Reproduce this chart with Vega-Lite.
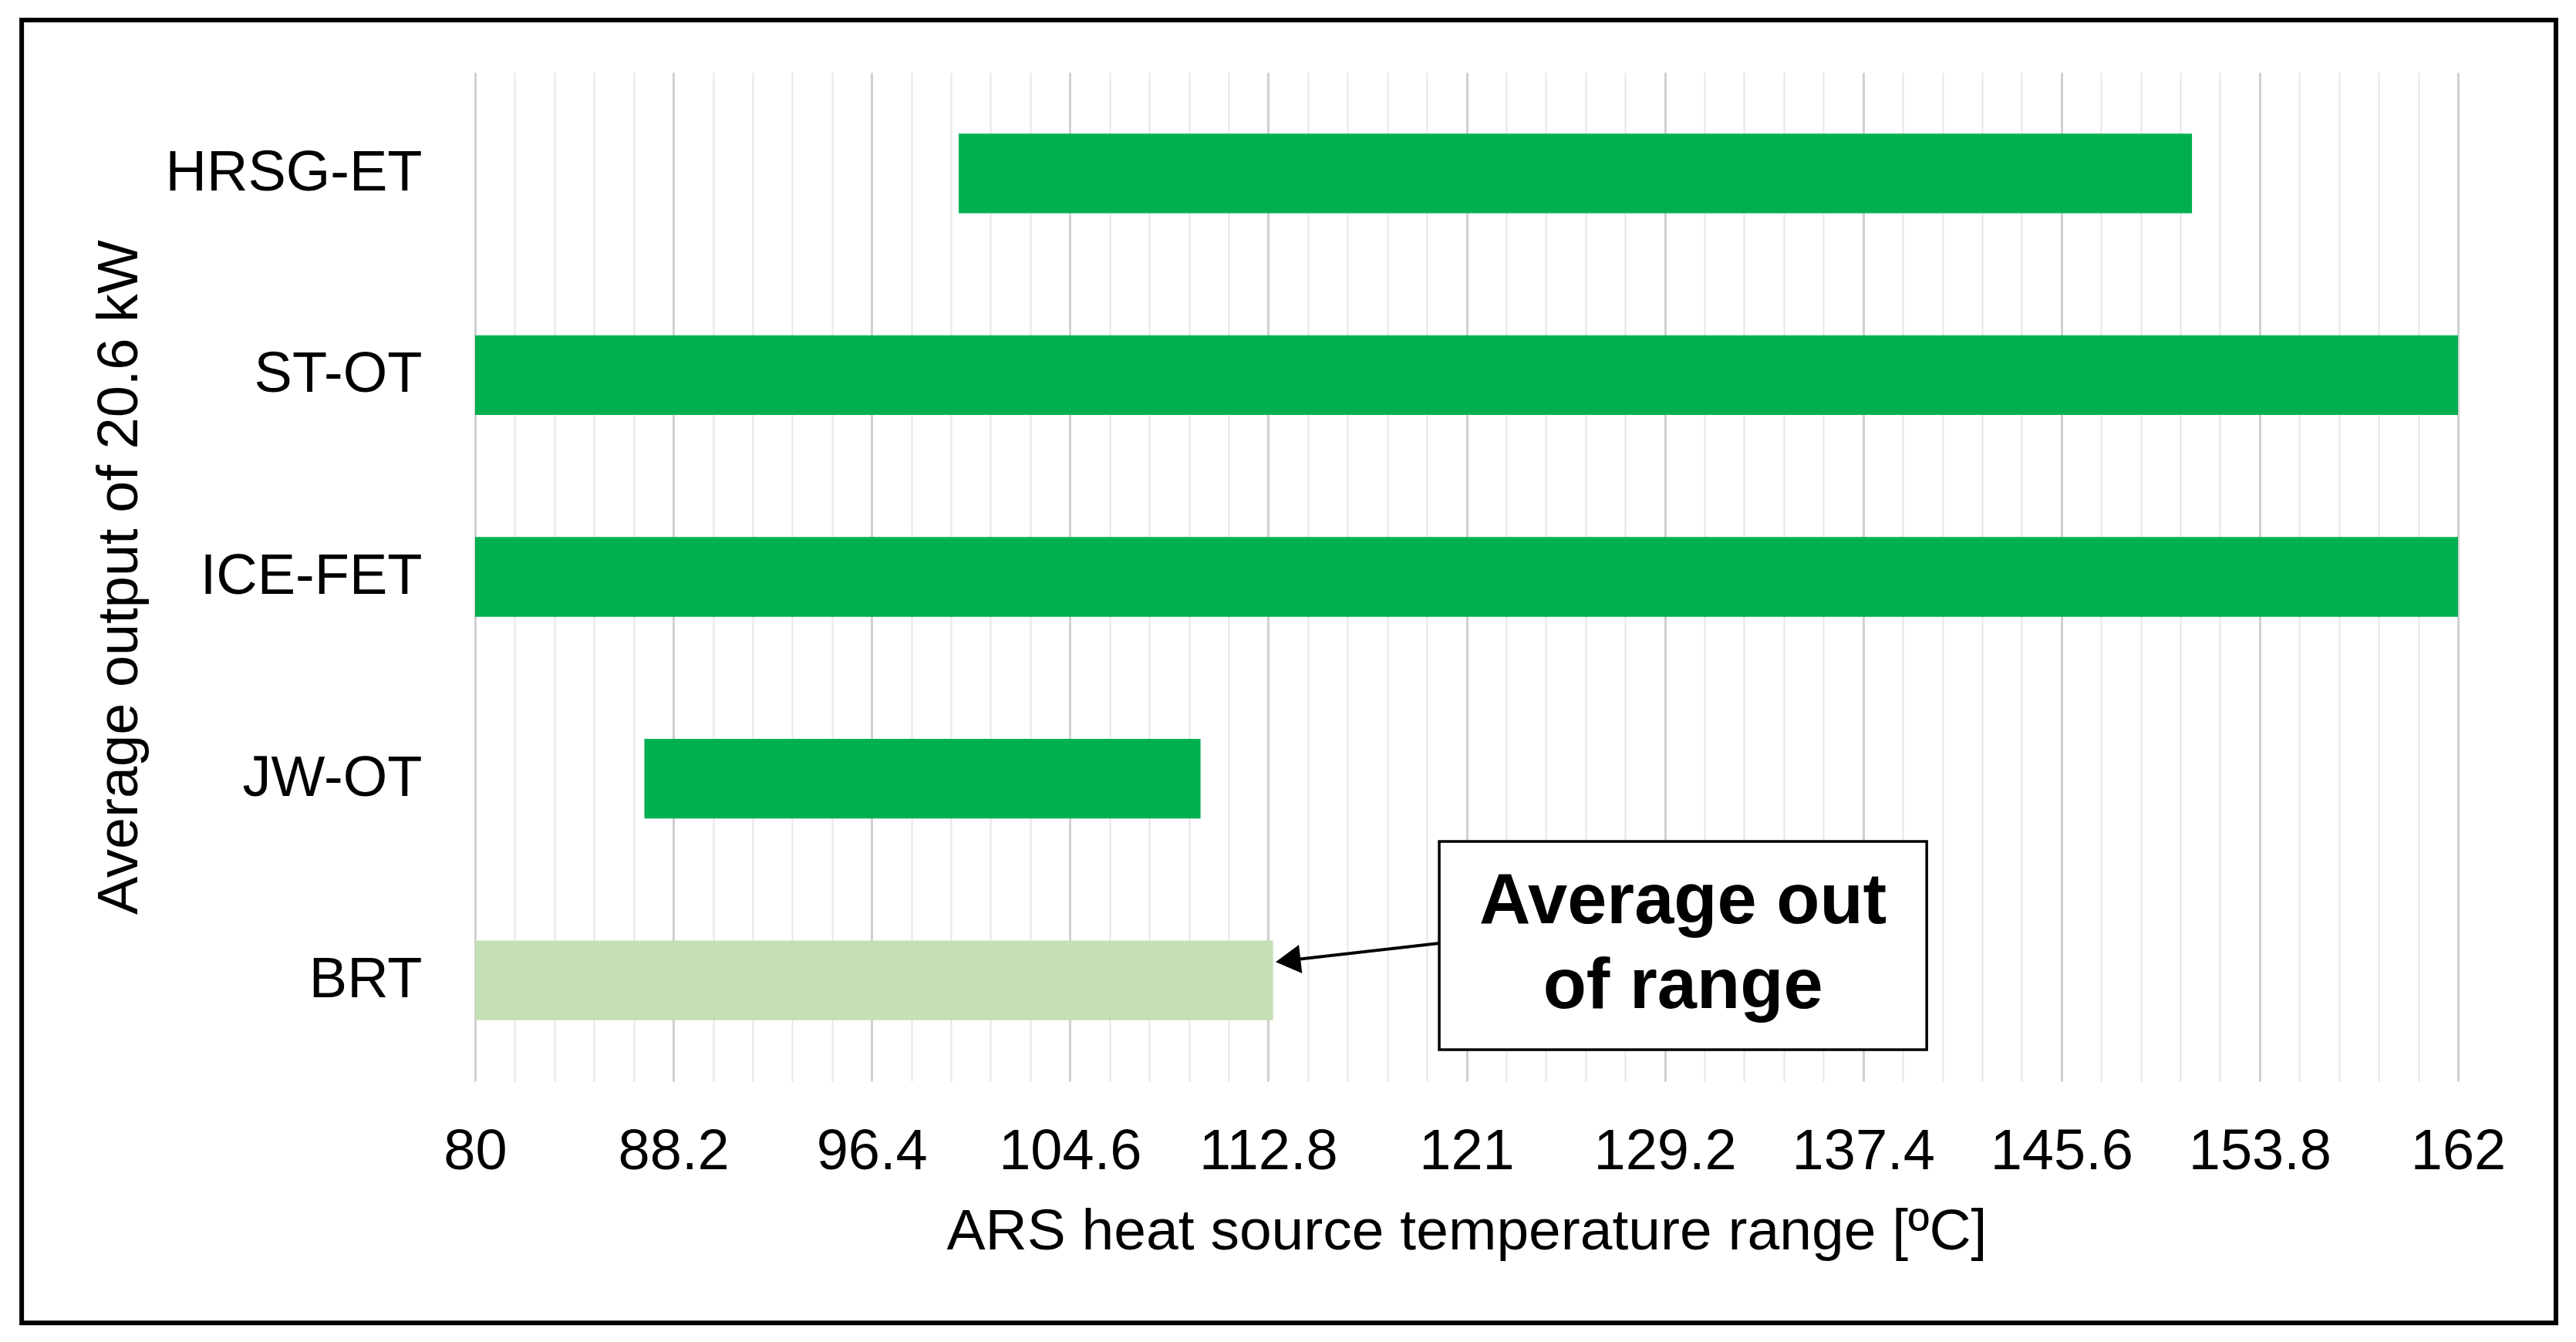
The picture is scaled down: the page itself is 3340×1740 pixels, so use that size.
{
  "$schema": "https://vega.github.io/schema/vega-lite/v6.json",
  "autosize": {"type": "none"},
  "width": 2571,
  "height": 1308,
  "padding": {"left": 616, "top": 94, "right": 153, "bottom": 338},
  "background": "white",
  "config": {
    "view": {"stroke": null},
    "font": "Liberation Sans",
    "axis": {"labelFont": "Liberation Sans", "titleFont": "Liberation Sans", "labelColor": "black", "titleColor": "black", "titleFontWeight": "normal"}
  },
  "datasets": {
    "bars": [
      {"tech": "HRSG-ET", "start": 100, "end": 151, "status": "Within range"},
      {"tech": "ST-OT", "start": 80, "end": 162, "status": "Within range"},
      {"tech": "ICE-FET", "start": 80, "end": 162, "status": "Within range"},
      {"tech": "JW-OT", "start": 87, "end": 110, "status": "Within range"},
      {"tech": "BRT", "start": 80, "end": 113, "status": "Average out of range"}
    ],
    "frame": [
      {"x1": 61.25, "x2": 166.05, "y1": 0.24, "y2": 6.697}
    ],
    "box": [
      {"x1": 119.87, "x2": 140.03, "y1": 4.311, "y2": 5.343}
    ],
    "arrow": [
      {"x": 119.87, "y": 4.816, "order": 1},
      {"x": 113.62, "y": 4.901, "order": 2}
    ],
    "arrowhead": [
      {"x": 113.62, "y": 4.901}
    ],
    "note": [
      {"x": 129.95, "y": 4.716, "text": "Average out"},
      {"x": 129.95, "y": 5.137, "text": "of range"}
    ]
  },
  "layer": [
    {
      "data": {"name": "bars"},
      "mark": {"type": "bar"},
      "encoding": {
        "y": {
          "field": "tech", "type": "nominal", "sort": null,
          "scale": {"paddingInner": 0.605, "paddingOuter": 0.3025},
          "axis": {
            "title": "Average output of 20.6 kW",
            "titleFontSize": 74,
            "titlePadding": 223,
            "labelFontSize": 74,
            "labelPadding": 69,
            "labelLimit": 1000,
            "ticks": false,
            "tickSize": 0,
            "domain": false,
            "grid": false
          }
        },
        "x": {
          "field": "start", "type": "quantitative",
          "scale": {"domain": [80, 162], "nice": false, "zero": false},
          "axis": {
            "title": "ARS heat source temperature range [ºC]",
            "titleFontSize": 75,
            "titlePadding": 30,
            "labelFontSize": 74,
            "labelPadding": 55,
            "labelLimit": 1000,
            "format": ".4~g",
            "ticks": false,
            "tickSize": 0,
            "domain": false,
            "grid": true,
            "labelOverlap": false,
            "labelFlush": false,
            "labelBound": false,
            "values": [80, 81.64, 83.28, 84.92, 86.56, 88.2, 89.84, 91.48, 93.12, 94.76, 96.4, 98.04, 99.68, 101.32, 102.96, 104.6, 106.24, 107.88, 109.52, 111.16, 112.8, 114.44, 116.08, 117.72, 119.36, 121, 122.64, 124.28, 125.92, 127.56, 129.2, 130.84, 132.48, 134.12, 135.76, 137.4, 139.04, 140.68, 142.32, 143.96, 145.6, 147.24, 148.88, 150.52, 152.16, 153.8, 155.44, 157.08, 158.72, 160.36, 162],
            "labelExpr": "indexof([80, 88.2, 96.4, 104.6, 112.8, 121, 129.2, 137.4, 145.6, 153.8, 162], datum.value) >= 0 ? datum.label : ''",
            "gridColor": {"condition": {"test": "indexof([80, 88.2, 96.4, 104.6, 112.8, 121, 129.2, 137.4, 145.6, 153.8, 162], datum.value) >= 0", "value": "#D0D0D0"}, "value": "#E6E6E6"},
            "gridWidth": {"condition": {"test": "indexof([80, 88.2, 96.4, 104.6, 112.8, 121, 129.2, 137.4, 145.6, 153.8, 162], datum.value) >= 0", "value": 3}, "value": 2}
          }
        },
        "x2": {"field": "end"},
        "color": {
          "field": "status", "type": "nominal",
          "scale": {"domain": ["Within range", "Average out of range"], "range": ["#00B050", "#C5E0B4"]},
          "legend": null
        }
      }
    },
    {
      "data": {"name": "frame"},
      "mark": {"type": "rect", "filled": false, "stroke": "black", "strokeWidth": 6},
      "encoding": {
        "x": {"field": "x1", "type": "quantitative", "scale": {"domain": [80, 162], "nice": false, "zero": false}},
        "x2": {"field": "x2"},
        "y": {"field": "y1", "type": "quantitative", "scale": {"domain": [0.5, 5.5], "reverse": true, "nice": false, "zero": false}, "axis": null},
        "y2": {"field": "y2"}
      }
    },
    {
      "data": {"name": "box"},
      "mark": {"type": "rect", "fill": "white", "stroke": "black", "strokeWidth": 3.5},
      "encoding": {
        "x": {"field": "x1", "type": "quantitative", "scale": {"domain": [80, 162], "nice": false, "zero": false}},
        "x2": {"field": "x2"},
        "y": {"field": "y1", "type": "quantitative", "scale": {"domain": [0.5, 5.5], "reverse": true, "nice": false, "zero": false}, "axis": null},
        "y2": {"field": "y2"}
      }
    },
    {
      "data": {"name": "arrow"},
      "mark": {"type": "line", "color": "black", "strokeWidth": 4},
      "encoding": {
        "x": {"field": "x", "type": "quantitative", "scale": {"domain": [80, 162], "nice": false, "zero": false}},
        "y": {"field": "y", "type": "quantitative", "scale": {"domain": [0.5, 5.5], "reverse": true, "nice": false, "zero": false}, "axis": null},
        "order": {"field": "order"}
      }
    },
    {
      "data": {"name": "arrowhead"},
      "mark": {"type": "point", "shape": "triangle-left", "filled": true, "color": "black", "size": 1400, "angle": -6.5, "opacity": 1},
      "encoding": {
        "x": {"field": "x", "type": "quantitative", "scale": {"domain": [80, 162], "nice": false, "zero": false}},
        "y": {"field": "y", "type": "quantitative", "scale": {"domain": [0.5, 5.5], "reverse": true, "nice": false, "zero": false}, "axis": null}
      }
    },
    {
      "data": {"name": "note"},
      "mark": {"type": "text", "font": "Liberation Sans", "fontWeight": "bold", "fontSize": 92, "color": "black", "align": "center", "baseline": "alphabetic"},
      "encoding": {
        "x": {"field": "x", "type": "quantitative", "scale": {"domain": [80, 162], "nice": false, "zero": false}},
        "y": {"field": "y", "type": "quantitative", "scale": {"domain": [0.5, 5.5], "reverse": true, "nice": false, "zero": false}, "axis": null},
        "text": {"field": "text"}
      }
    }
  ],
  "resolve": {"scale": {"y": "independent"}, "axis": {"y": "independent"}}
}
